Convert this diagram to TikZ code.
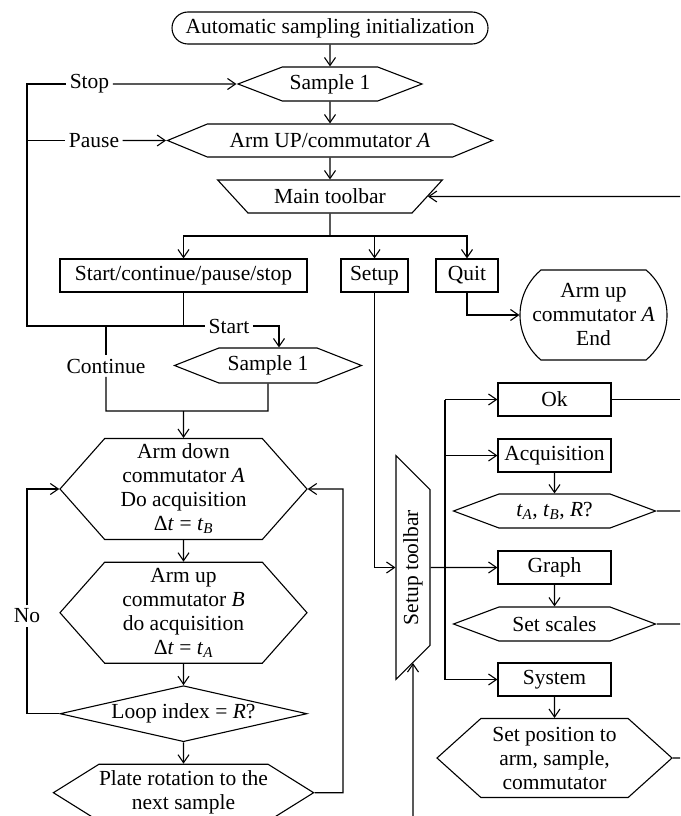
\documentclass[tikz,border=0pt]{standalone}
\usepackage{fontspec}
\setmainfont{Liberation Serif}
\usetikzlibrary{arrows.meta, shapes.geometric, shapes.misc, shapes.symbols}

\newcommand{\flowfont}{\fontsize{21.5}{24}\selectfont}
\newcommand{\subvar}[2]{\textit{#1}\textsubscript{\textit{#2}}}

\begin{document}
\begin{tikzpicture}[x=1pt, y=-1pt, line width=1.1pt,
    every node/.style={font=\flowfont, inner sep=0pt},
    arr/.style={-{Straight Barb[length=8pt, width=11pt]}},
    procbox/.style={draw, rectangle, minimum height=33pt},
    hexbox/.style={draw, signal, signal to=east and west, signal from=nowhere, align=center},
    termbox/.style={draw, rounded rectangle, align=center},
    barbox/.style={draw, trapezium, trapezium stretches=true, shape border rotate=180},
    lbl/.style={inner sep=3pt}]
  \useasboundingbox (0,0) rectangle (680,816);

  % main column
  \node[termbox, minimum width=316pt, minimum height=32pt] (init) at (330,28) {Automatic sampling initialization};
  \node[hexbox, minimum width=184pt, minimum height=34pt, signal pointer angle=42] (smp) at (330,84) {Sample 1};
  \node[hexbox, minimum width=325pt, minimum height=33pt, signal pointer angle=45] (armA) at (330,140.5) {Arm UP/commutator \textit{A}};
  \node[barbox, minimum width=225pt, minimum height=33pt, trapezium angle=36.3] (mainbar) at (330,196.5) {Main toolbar};
  \node[procbox, minimum width=247pt] (ctrl) at (183.5,275.5) {Start/continue/pause/stop};
  \node[procbox, minimum width=67pt] (setup) at (374.5,275.5) {Setup};
  \node[procbox, minimum width=62pt] (quit) at (467,275.5) {Quit};
  \node[termbox, rounded rectangle arc length=100, minimum width=147pt, minimum height=90pt] (finish) at (593.5,315) {Arm up\\commutator \textit{A}\\End};

  % left column
  \node[hexbox, minimum width=187pt, minimum height=35pt, signal pointer angle=43] (smpb) at (268,365.5) {Sample 1};
  \node[hexbox, minimum width=247pt, minimum height=101pt, signal pointer angle=97] (armdn) at (183.5,489) {Arm down\\commutator \textit{A}\\Do acquisition\\Δ\textit{t} = \subvar{t}{B}};
  \node[hexbox, minimum width=247pt, minimum height=101pt, signal pointer angle=97] (armup) at (183.5,612.7) {Arm up\\commutator \textit{B}\\do acquisition\\Δ\textit{t} = \subvar{t}{A}};
  \node[draw, diamond, aspect=4.4, minimum width=247pt, minimum height=56pt] (loop) at (183.5,713.7) {Loop index = \textit{R}?};
  \node[hexbox, minimum width=253pt, minimum height=57pt, signal pointer angle=64] (plate) at (183.5,792.7) {Plate rotation to the\\next sample};

  % setup column
  \node[barbox, rotate=90, minimum width=224pt, minimum height=34pt, trapezium angle=37.7] (setbar) at (413,567.5) {Setup toolbar};
  \node[procbox, minimum width=113pt] (ok) at (554.5,399.5) {Ok};
  \node[procbox, minimum width=113pt] (acq) at (554.5,455.5) {Acquisition};
  \node[hexbox, minimum width=202pt, minimum height=34pt, signal pointer angle=41] (times) at (554.5,511) {\subvar{t}{A}, \subvar{t}{B}, \textit{R}?};
  \node[procbox, minimum width=113pt] (graph) at (554.5,567.5) {Graph};
  \node[hexbox, minimum width=202pt, minimum height=34pt, signal pointer angle=41] (scales) at (554.5,624) {Set scales};
  \node[procbox, minimum width=113pt] (system) at (554.5,679.5) {System};
  \node[hexbox, minimum width=235pt, minimum height=79pt, signal pointer angle=84] (setpos) at (554.5,758) {Set position to\\arm, sample,\\commutator};

  % labels on the lines
  \node[lbl] (stop) at (89.5,84) {Stop};
  \node[lbl] (pause) at (94,140.5) {Pause};
  \node[lbl] (start) at (229,326) {Start};
  \node[lbl] (cont) at (106,366) {Continue};
  \node[lbl] (no) at (27,616) {No};

  \coordinate (split) at (330,236);
  \coordinate (join) at (183.5,326);
  \coordinate (merge) at (183.5,411);
  \coordinate (lft) at (27,84);
  \coordinate (rgt) at (343,0);
  \coordinate (trunk) at (445,0);
  \coordinate (edge) at (680,0);
  \coordinate (bottom) at (413,816);

  \draw[arr] (init) -- (smp);
  \draw[arr] (smp) -- (armA);
  \draw[arr] (armA) -- (mainbar);
  \draw (mainbar) -- (split);
  \draw[arr] (split) -| (ctrl);
  \draw[arr] (split) -| (setup);
  \draw[arr] (split) -| (quit);
  \draw[arr] (quit) |- (finish);

  % stop / pause / start / continue
  \draw (join) -- (join -| lft) -- (lft) -- (stop);
  \draw[arr] (stop) -- (smp);
  \draw (pause -| lft) -- (pause);
  \draw[arr] (pause) -- (armA);
  \draw (ctrl) -- (join) -- (start);
  \draw[arr] (start) -| ([xshift=11pt]smpb.north);
  \draw (join -| cont) -- (cont);
  \draw (cont) -- (merge -| cont) -- (merge -| smpb) -- (smpb);
  \draw[arr] (merge) -- (armdn);

  % acquisition loop
  \draw[arr] (armdn) -- (armup);
  \draw[arr] (armup) -- (loop);
  \draw[arr] (loop) -- (plate);
  \draw (loop) -- (loop -| no) -- (no);
  \draw[arr] (no) |- (armdn);
  \draw[arr] (plate) -- (plate -| rgt) |- (armdn);

  % setup toolbar
  \draw[arr] (setup) |- (setbar);
  \draw[arr] (bottom) -- (setbar);
  \draw[arr] (setbar) -- (graph);
  \draw (ok -| trunk) -- (system -| trunk);
  \draw[arr] (ok -| trunk) -- (ok);
  \draw[arr] (acq -| trunk) -- (acq);
  \draw[arr] (system -| trunk) -- (system);
  \draw[arr] (acq) -- (times);
  \draw[arr] (graph) -- (scales);
  \draw[arr] (system) -- (setpos);

  % lines leaving to the right
  \draw (ok) -- (ok -| edge);
  \draw (times) -- (times -| edge);
  \draw (scales) -- (scales -| edge);
  \draw (setpos) -- (setpos -| edge);
  \draw[arr] (mainbar -| edge) -- (mainbar);
\end{tikzpicture}
\end{document}
